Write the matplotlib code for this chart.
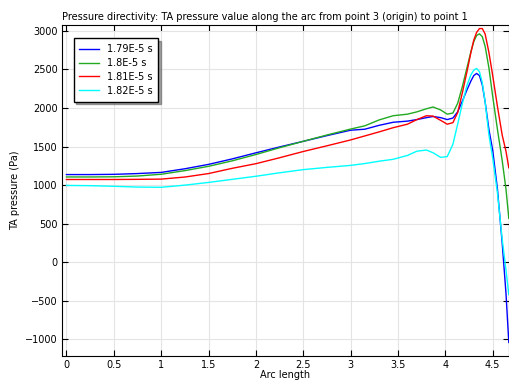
import matplotlib.pyplot as plt

# Arc length samples (shared by all series)
arc = [0, 0.25, 0.5, 0.75, 1.0, 1.25, 1.5, 1.75, 2.0, 2.25, 2.5, 2.75, 3.0, 3.15, 3.3,
       3.45, 3.6, 3.7, 3.8, 3.87, 3.95, 4.02, 4.08, 4.13, 4.18, 4.23, 4.27, 4.3, 4.33,
       4.36, 4.39, 4.42, 4.46, 4.5, 4.55, 4.6, 4.64, 4.67]

p_179 = [1137, 1137, 1140, 1150, 1165, 1212, 1269, 1340, 1419, 1495, 1568, 1642, 1712, 1725, 1775,
         1815, 1830, 1850, 1875, 1890, 1875, 1850, 1870, 1950, 2090, 2240, 2350, 2420, 2448,
         2420, 2300, 2080, 1722, 1450, 950, 250, -400, -1040]
p_180 = [1106, 1106, 1108, 1118, 1141, 1188, 1244, 1315, 1397, 1485, 1568, 1650, 1727, 1769, 1845,
         1900, 1920, 1950, 1990, 2013, 1975, 1920, 1935, 2060, 2280, 2530, 2730, 2860, 2940,
         2962, 2925, 2800, 2520, 2150, 1722, 1320, 950, 570]
p_181 = [1073, 1073, 1073, 1075, 1078, 1105, 1150, 1218, 1278, 1355, 1436, 1510, 1586, 1638, 1690,
         1745, 1790, 1850, 1900, 1895, 1840, 1790, 1810, 1940, 2200, 2480, 2720, 2880, 2980,
         3030, 3030, 2960, 2720, 2420, 2020, 1650, 1440, 1225]
p_182 = [996, 993, 985, 975, 972, 1000, 1035, 1075, 1115, 1160, 1201, 1230, 1256, 1280, 1310,
         1335, 1385, 1440, 1455, 1420, 1360, 1370, 1530, 1790, 2060, 2300, 2430, 2490, 2513,
         2470, 2330, 2080, 1650, 1350, 900, 300, -100, -420]

labels = ["1.79E-5 s", "1.8E-5 s", "1.81E-5 s", "1.82E-5 s"]
colors = ["#0000ff", "#22aa22", "#ff0000", "#00ffff"]

fig = plt.figure(figsize=(5.09, 3.80), dpi=100)
ax = fig.add_axes([0.122, 0.063, 0.878, 0.871])

for vals, lab, col in zip([p_179, p_180, p_181, p_182], labels, colors):
    ax.plot(arc, vals, color=col, linewidth=1.0, label=lab)

ax.set_xlim(-0.046, 4.672)
ax.set_ylim(-1216, 3075)
ax.set_xticks([0, 0.5, 1, 1.5, 2, 2.5, 3, 3.5, 4, 4.5])
ax.set_xticklabels(["0", "0.5", "1", "1.5", "2", "2.5", "3", "3.5", "4", "4.5"])
ax.set_yticks(range(-1000, 3001, 500))
ax.grid(True, color="#e4e4e4", linewidth=0.8)
ax.set_axisbelow(True)
ax.tick_params(direction="in", top=True, right=True, labelsize=7, length=4, pad=3)

ax.set_title("Pressure directivity: TA pressure value along the arc from point 3 (origin) to point 1",
             fontsize=7, pad=4, loc="left")
ax.set_xlabel("Arc length", fontsize=7, labelpad=0)
ax.set_ylabel("TA pressure (Pa)", fontsize=7, labelpad=4)

leg = ax.legend(loc="upper left", fontsize=7, fancybox=False, shadow=True,
                edgecolor="black", framealpha=1, handlelength=2.0, borderpad=0.6,
                labelspacing=0.4, bbox_to_anchor=(0.015, 0.975))
leg.get_frame().set_linewidth(1.0)

fig.savefig("out.png", dpi=100)
